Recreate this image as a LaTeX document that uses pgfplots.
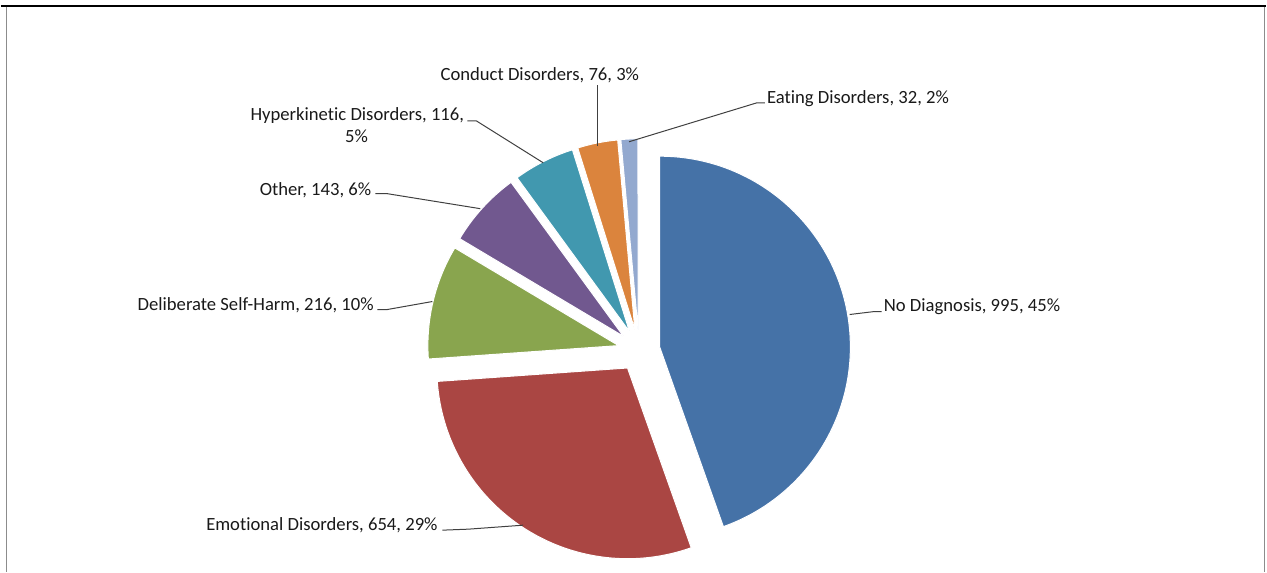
\documentclass[border=0pt]{standalone}
\usepackage{pgfplots}
\pgfplotsset{compat=1.18}
\usepackage{pgfplotstable}
\usepackage{fontspec}
\setmainfont{Carlito}[Ligatures=NoCommon]

\definecolor{slice0}{HTML}{4572A7}
\definecolor{slice1}{HTML}{AA4643}
\definecolor{slice2}{HTML}{89A54E}
\definecolor{slice3}{HTML}{71588F}
\definecolor{slice4}{HTML}{4198AF}
\definecolor{slice5}{HTML}{DB843D}
\definecolor{slice6}{HTML}{93A9CF}
\definecolor{leader}{HTML}{404040}
\definecolor{framegray}{HTML}{8C8C8C}

\pgfplotstableread[col sep=comma]{
name,value
No Diagnosis,995
Emotional Disorders,654
Deliberate Self-Harm,216
Other,143
Hyperkinetic Disorders,116
Conduct Disorders,76
Eating Disorders,32
}\piedata

% pie geometry, in pixels of the 1267x573 frame (1px = 0.75pt)
\def\cx{639}
\def\cy{351}
\def\explode{21}
\def\pieR{143.25pt}

\begin{document}
\begin{tikzpicture}[font=\fontsize{14pt}{16.5pt}\selectfont, text=black!90]
% slice angles from the table, clockwise from 12 o'clock
\def\total{0}
\pgfplotsforeachungrouped \i in {0,...,6}{%
  \pgfplotstablegetelem{\i}{value}\of\piedata
  \pgfmathsetmacro\total{\total+\pgfplotsretval}%
}
\def\ang{90}
\pgfplotsforeachungrouped \i in {0,...,6}{%
  \pgfplotstablegetelem{\i}{value}\of\piedata
  \pgfmathsetmacro\sweep{\pgfplotsretval/\total*360}%
  \pgfmathsetmacro\endang{\ang-\sweep}%
  \pgfmathsetmacro\midang{\ang-\sweep/2}%
  \pgfmathsetmacro\px{\cx+\explode*cos(\midang)}%
  \pgfmathsetmacro\py{\cy-\explode*sin(\midang)}%
  \expandafter\xdef\csname pieS\i\endcsname{\ang}%
  \expandafter\xdef\csname pieE\i\endcsname{\endang}%
  \expandafter\xdef\csname pieX\i\endcsname{\px}%
  \expandafter\xdef\csname pieY\i\endcsname{\py}%
  \let\ang\endang
}
\begin{axis}[
    hide axis,
    scale only axis,
    width=950.25pt,
    height=429.75pt,
    xmin=0, xmax=1267,
    ymin=0, ymax=573,
    y dir=reverse,
    clip=false,
    ]
    \path (axis cs:0,0) rectangle (axis cs:1267,573);
    % frame
    \draw[black, line width=1.5pt] (axis cs:0,6) -- (axis cs:1267,6);
    \draw[framegray, line width=1pt] (axis cs:5.7,7) -- (axis cs:5.7,573);
    \draw[framegray, line width=1pt] (axis cs:1265.7,7) -- (axis cs:1265.7,573);
    % slices
    \pgfplotsinvokeforeach{0,...,6}{
      \edef\temp{\noexpand\fill[slice#1, draw=white, line width=0.75pt]
        (axis cs:\csname pieX#1\endcsname,\csname pieY#1\endcsname)
        -- ++(\csname pieS#1\endcsname:\pieR)
        arc[start angle=\csname pieS#1\endcsname, end angle=\csname pieE#1\endcsname, radius=\pieR]
        -- cycle;}
      \temp
    }
    % leader lines
    \draw[leader, line width=0.75pt] (axis cs:850,315) -- (axis cs:875,312) -- (axis cs:882,312);
    \draw[leader, line width=0.75pt] (axis cs:523,526) -- (axis cs:468,530) -- (axis cs:442,531);
    \draw[leader, line width=0.75pt] (axis cs:432,302) -- (axis cs:387,310) -- (axis cs:377,310);
    \draw[leader, line width=0.75pt] (axis cs:480,209) -- (axis cs:387,194) -- (axis cs:375,194);
    \draw[leader, line width=0.75pt] (axis cs:543,163) -- (axis cs:476,121) -- (axis cs:467,121);
    \draw[leader, line width=0.75pt] (axis cs:597,146) -- (axis cs:597,85);
    \draw[leader, line width=0.75pt] (axis cs:629,142) -- (axis cs:757,103) -- (axis cs:765,103);
    % labels
    \node[anchor=base west, inner sep=0] at (axis cs:884,312) {No Diagnosis, 995, 45\%};
    \node[anchor=base east, inner sep=0] at (axis cs:437.5,531) {Emotional Disorders, 654, 29\%};
    \node[anchor=base east, inner sep=0] at (axis cs:373.5,311) {Deliberate Self-Harm, 216, 10\%};
    \node[anchor=base east, inner sep=0] at (axis cs:371,196) {Other, 143, 6\%};
    \node[anchor=base east, inner sep=0] at (axis cs:464,121) {Hyperkinetic Disorders, 116,};
    \node[anchor=base, inner sep=0] at (axis cs:356,143) {5\%};
    \node[anchor=base west, inner sep=0] at (axis cs:440,81) {Conduct Disorders, 76, 3\%};
    \node[anchor=base west, inner sep=0] at (axis cs:767,103.5) {Eating Disorders, 32, 2\%};
\end{axis}
\end{tikzpicture}
\end{document}
